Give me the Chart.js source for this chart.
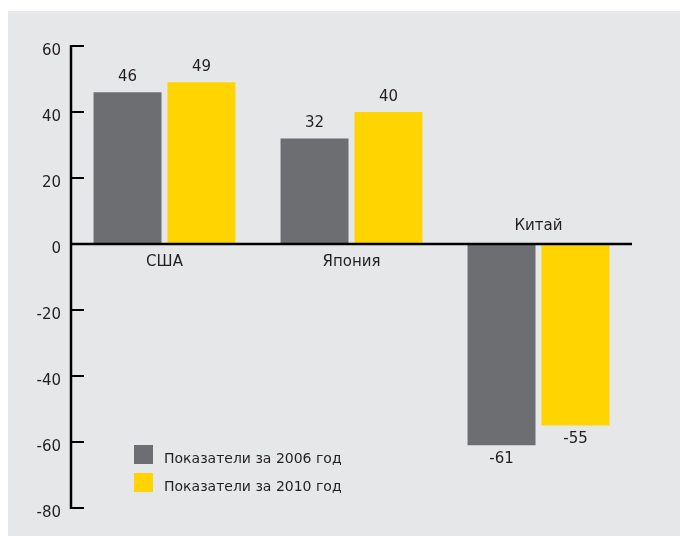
<!DOCTYPE html>
<html>
<head>
<meta charset="utf-8">
<script src="https://cdn.jsdelivr.net/npm/chart.js@4/dist/chart.umd.min.js"></script>
<style>
  html, body { margin: 0; padding: 0; background: #fff; }
  #wrap { position: absolute; left: 0; top: 0; width: 680px; height: 536px; }
</style>
</head>
<body>
<div id="wrap"><canvas id="chart" width="680" height="536"></canvas></div>
<script>
// Chart data
const categories = ['США', 'Япония', 'Китай'];
const values2006 = [46, 32, -61];
const values2010 = [49, 40, -55];
const seriesLabels = ['Показатели за 2006 год', 'Показатели за 2010 год'];
const yTicks = [60, 40, 20, 0, -20, -40, -60, -80];

const GRAY = '#6d6e71';
const YELLOW = '#ffd400';
const TEXT = '#231f20';
const FONT = '15px "DejaVu Sans", Verdana, sans-serif';
const LEGEND_FONT = '14px "DejaVu Sans", Verdana, sans-serif';

// Gray panel behind the chart
const panelPlugin = {
    id: 'panel',
    beforeDraw(chart) {
        const ctx = chart.ctx;
        ctx.save();
        ctx.fillStyle = '#e6e7e8';
        ctx.fillRect(8, 11, 672, 525);
        ctx.restore();
    }
};

// Axis lines, tick marks, value labels, category labels and legend
const decorPlugin = {
    id: 'decor',
    afterDatasetsDraw(chart) {
        const ctx = chart.ctx;
        const area = chart.chartArea;
        const x = chart.scales.x;
        const y = chart.scales.y;
        const zeroY = y.getPixelForValue(0);

        ctx.save();
        ctx.strokeStyle = '#000';
        ctx.lineCap = 'butt';

        // zero line
        ctx.lineWidth = 2.5;
        ctx.beginPath();
        ctx.moveTo(area.left, zeroY);
        ctx.lineTo(area.right, zeroY);
        ctx.stroke();

        // vertical axis
        const topY = y.getPixelForValue(yTicks[0]);
        const botY = y.getPixelForValue(yTicks[yTicks.length - 1]);
        ctx.beginPath();
        ctx.moveTo(area.left, topY - 1);
        ctx.lineTo(area.left, botY + 1);
        ctx.stroke();

        // tick marks and labels
        ctx.font = FONT;
        ctx.fillStyle = TEXT;
        ctx.textAlign = 'right';
        ctx.textBaseline = 'middle';
        ctx.lineWidth = 2;
        yTicks.forEach(t => {
            const ty = y.getPixelForValue(t);
            if (t !== 0) {
                ctx.beginPath();
                ctx.moveTo(area.left, ty);
                ctx.lineTo(area.left + 13, ty);
                ctx.stroke();
            }
            ctx.fillText(String(t), area.left - 10, ty + 5);
        });

        // value labels
        ctx.textAlign = 'center';
        chart.data.datasets.forEach((ds, i) => {
            const meta = chart.getDatasetMeta(i);
            meta.data.forEach((bar, j) => {
                const v = ds.data[j];
                const ly = v >= 0 ? bar.y - 15 : bar.y + 14;
                ctx.fillText(String(v), bar.x, ly);
            });
        });

        // category labels (below axis for positive, above for negative)
        categories.forEach((c, j) => {
            const cx = x.getPixelForValue(j);
            const neg = values2006[j] < 0;
            ctx.fillText(c, cx, neg ? zeroY - 18 : zeroY + 18);
        });

        // legend
        const legendX = 134;
        const legendY = [445, 473];
        ctx.font = LEGEND_FONT;
        chart.data.datasets.forEach((ds, i) => {
            ctx.fillStyle = ds.backgroundColor;
            ctx.fillRect(legendX, legendY[i], 19, 19);
            ctx.fillStyle = TEXT;
            ctx.textAlign = 'left';
            ctx.fillText(ds.label, legendX + 30, legendY[i] + 14);
        });

        ctx.restore();
    }
};

const ctx = document.getElementById('chart').getContext('2d');
const chart = new Chart(ctx, {
    type: 'bar',
    data: {
        labels: categories,
        datasets: [
            {
                label: seriesLabels[0],
                data: values2006,
                backgroundColor: GRAY,
                borderWidth: 0,
                barPercentage: 0.919,
                categoryPercentage: 0.791
            },
            {
                label: seriesLabels[1],
                data: values2010,
                backgroundColor: YELLOW,
                borderWidth: 0,
                barPercentage: 0.919,
                categoryPercentage: 0.791
            }
        ]
    },
    options: {
        responsive: false,
        animation: false,
        layout: {
            padding: { left: 71, right: 48, top: 46, bottom: 28 }
        },
        scales: {
            x: { display: false },
            y: { display: false, min: -80, max: 60 }
        },
        plugins: {
            legend: { display: false },
            tooltip: { enabled: false }
        }
    },
    plugins: [panelPlugin, decorPlugin]
});
</script>
</body>
</html>
